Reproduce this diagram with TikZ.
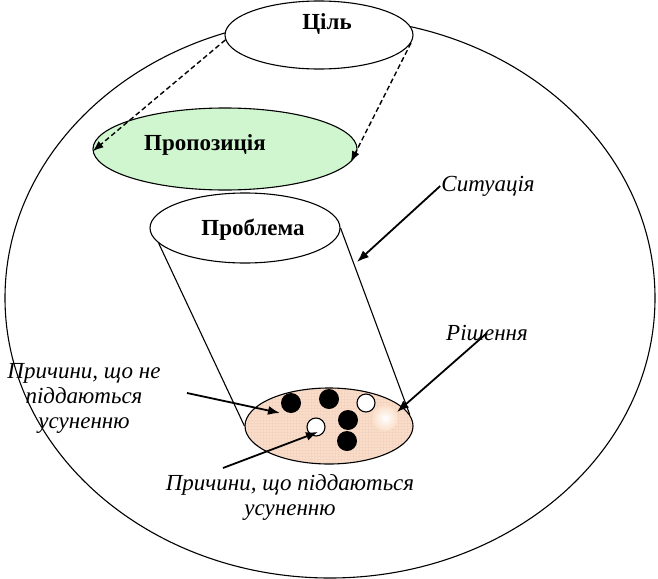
\documentclass[tikz,border=0pt]{standalone}
\usepackage{fontspec}
\setmainfont{Liberation Serif}
\definecolor{propgreen}{RGB}{208,246,208}
\definecolor{solpeach}{RGB}{251,222,200}
\definecolor{solgrid}{RGB}{244,212,194}
\usetikzlibrary{shapes.geometric, arrows.meta}
\tikzset{
  oval/.style={draw, ellipse, inner sep=0pt, line width=1.1pt, fill=white},
  boldlabel/.style={font=\fontsize{23}{26}\selectfont\bfseries},
  itlabel/.style={font=\fontsize{23}{25}\selectfont\itshape, align=center, inner sep=1pt},
  arr/.style={-{Latex[length=12pt,width=9pt]}, line width=1.8pt},
  dasharr/.style={-{Latex[length=11pt,width=8pt]}, dash pattern=on 5pt off 3pt, line width=1.4pt},
}

\begin{document}
\begin{tikzpicture}[x=1pt, y=-1pt]
  \useasboundingbox (0,0) rectangle (658,578);

  % situation frame
  \node [oval, fill=none, minimum width=650pt, minimum height=560pt] (sitframe) at (330,298) {};

  \node [oval, minimum width=188pt, minimum height=68pt] (goal) at (319,35) {};
  \node [boldlabel] (goaltext) at (327,24) {Ціль};

  % problem cylinder
  \node [oval, minimum width=190pt, minimum height=70pt] (prob) at (245,228) {};
  \node [oval, fill=propgreen, minimum width=264pt, minimum height=82pt] (prop) at (225,149) {};
  \node [boldlabel] (proptext) at (205,145) {Пропозиція};
  \node [boldlabel] (probtext) at (253,230) {Проблема};

  \node [oval, fill=solpeach, minimum width=168pt, minimum height=76pt,
    path picture={
      \draw [solgrid, line width=0.3pt] (path picture bounding box.south west)
        grid [step=3pt] (path picture bounding box.north east);
    }] (sol) at (329,426) {};
  \draw [line width=1.1pt] (prob.190) -- (sol.west);
  \draw [line width=1.1pt] (prob.east) -- (sol.8);

  \draw [dasharr] (goal.183) -- (prop.181);
  \draw [dasharr] (goal.-5) -- (prop.-6);

  % causes
  \foreach \x/\y in {291/403, 329/399, 348/420, 347/441} {
    \fill (\x,\y) circle (10pt);
  }
  \foreach \x/\y in {366/403, 316/427} {
    \draw [fill=white, line width=1.1pt] (\x,\y) circle (9pt);
  }
  \shade [inner color=white, outer color=solpeach] (385,418) circle (13pt);

  \node [itlabel] (sittext) at (488,186) {Ситуація};
  \coordinate (sittip) at (357,262);
  \draw [arr] (sittext.west) -- (sittip);

  \node [itlabel] (dectext) at (487,333) {Рішення};
  \coordinate (dectip) at (397,412);
  \draw [arr] (dectext.center) -- (dectip);

  \node [itlabel] (fixed) at (84,398) {Причини, що не\\піддаються\\усуненню};
  \coordinate (f0) at (187,393);
  \coordinate (f1) at (280,413);
  \draw [arr] (f0) -- (f1);

  \node [itlabel] (removable) at (290,497) {Причини, що піддаються\\усуненню};
  \coordinate (r0) at (223,468);
  \coordinate (r1) at (318,432);
  \draw [arr] (r0) -- (r1);
\end{tikzpicture}
\end{document}
